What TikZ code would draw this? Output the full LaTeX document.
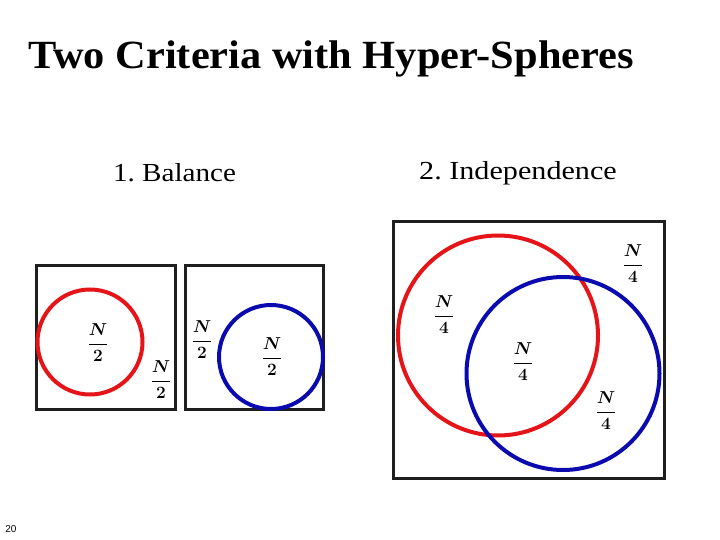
\documentclass[tikz,border=0pt]{standalone}
\usepackage{fontspec}
\setmainfont{Liberation Serif}
\newfontfamily\pagefont{Liberation Sans}
\definecolor{cred}{RGB}{228,20,24}
\definecolor{cblue}{RGB}{10,10,175}
\tikzset{
  frame/.style={draw=black!88, line width=3pt},
  redc/.style={draw=cred, line width=4pt},
  bluec/.style={draw=cblue, line width=4pt},
  frac/.style={font=\fontsize{17}{20}\selectfont, inner sep=0pt},
  sub/.style={font=\fontsize{26}{28}\selectfont, inner sep=0pt}
}
\newcommand{\fr}[1]{$\boldmath\displaystyle\frac{\boldsymbol{N}}{\mathbf{#1}}$}
\usepackage{amsmath}
\frenchspacing
\begin{document}
\begin{tikzpicture}[x=1pt,y=-1pt]
\useasboundingbox (0,0) rectangle (720,540);
\node[inner sep=0pt, anchor=base west, font=\fontsize{40}{44}\selectfont\bfseries] (title) at (28,69) {\scalebox{1.06}[1]{Two Criteria with Hyper-Spheres}};
\node[sub] (s1) at (174.5,173) {\scalebox{1.12}[1]{1. Balance}};
\node[sub] (s2) at (518,173) {\scalebox{1.16}[1]{2. Independence}};
% balance
\draw[frame] (36,265) rectangle (175,409);
\draw[frame] (185,265) rectangle (323,409);
\draw[redc] (90,342) circle (52.5);
\draw[bluec] (271,357) circle (52);
\node[frac] (a1) at (98,343) {\fr{2}};
\node[frac] (a2) at (161,380) {\fr{2}};
\node[frac] (a3) at (202,340) {\fr{2}};
\node[frac] (a4) at (272,357) {\fr{2}};
% independence
\draw[frame] (393,222) rectangle (664,478);
\draw[redc] (498,335.5) circle (100);
\draw[bluec] (563,373.5) circle (96.5);
\node[frac] (b1) at (633,264) {\fr{4}};
\node[frac] (b2) at (444,315) {\fr{4}};
\node[frac] (b3) at (523,362) {\fr{4}};
\node[frac] (b4) at (606,411) {\fr{4}};
\node[inner sep=0pt, font=\pagefont\fontsize{10}{12}\selectfont] (pg) at (11,529) {20};
\end{tikzpicture}
\end{document}
